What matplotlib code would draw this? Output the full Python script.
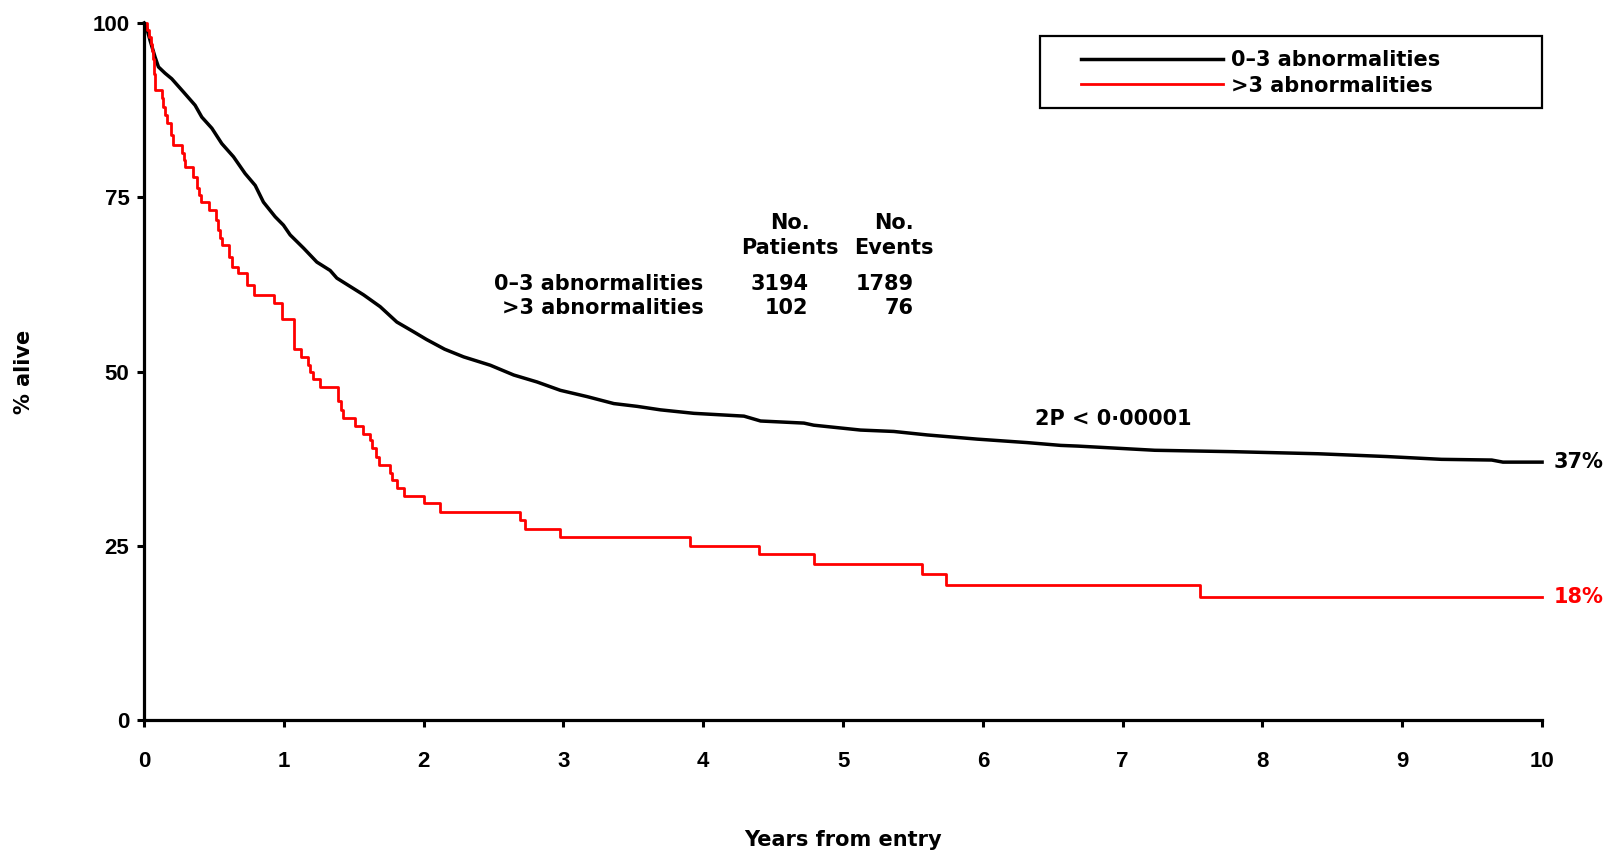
import numpy as np
import matplotlib.pyplot as plt
from matplotlib.patches import Rectangle

plt.rcParams['font.family'] = ['DejaVu Sans']
plt.rcParams['font.weight'] = 'bold'

# survival curve for 0-3 abnormalities (years, % alive)
black_t = [0, 0.02, 0.043, 0.067, 0.079, 0.103, 0.15, 0.198, 0.282, 0.365, 0.413,
           0.485, 0.556, 0.640, 0.723, 0.795, 0.854, 0.938, 0.997, 1.045, 1.141,
           1.236, 1.331, 1.379, 1.570, 1.689, 1.808, 1.928, 2.02, 2.15, 2.286,
           2.477, 2.644, 2.811, 2.978, 3.169, 3.360, 3.527, 3.694, 3.933, 4.291,
           4.41, 4.72, 4.79, 5.125, 5.363, 5.602, 5.96, 6.318, 6.557, 6.68, 7.23,
           7.79, 8.40, 8.89, 9.28, 9.64, 9.72, 10.0]
black_y = [100, 99.2, 97.5, 95.9, 95.1, 93.7, 92.8, 92.0, 90.1, 88.2, 86.5,
           84.9, 82.7, 80.8, 78.4, 76.7, 74.3, 72.2, 71.0, 69.6, 67.7,
           65.7, 64.5, 63.4, 61.0, 59.3, 57.1, 55.7, 54.6, 53.2, 52.1,
           50.9, 49.5, 48.5, 47.3, 46.4, 45.4, 45.0, 44.5, 44.0, 43.6,
           42.9, 42.6, 42.3, 41.6, 41.4, 40.9, 40.3, 39.8, 39.4, 39.3, 38.7,
           38.5, 38.2, 37.8, 37.4, 37.3, 37.0, 37.0]

# survival curve for >3 abnormalities (step times, % alive after step)
red_t = [0, 0.02, 0.038, 0.048, 0.056, 0.062, 0.068, 0.072, 0.076, 0.079,
         0.127, 0.138, 0.150, 0.167, 0.191, 0.210, 0.270, 0.285, 0.294, 0.353,
         0.377, 0.395, 0.406, 0.461, 0.515, 0.532, 0.545, 0.556, 0.611, 0.627,
         0.675, 0.735, 0.787, 0.930, 0.985, 1.069, 1.121, 1.170, 1.188, 1.208,
         1.260, 1.384, 1.408, 1.422, 1.510, 1.563, 1.618, 1.634, 1.660, 1.682,
         1.756, 1.773, 1.809, 1.857, 2.000, 2.114, 2.687, 2.727, 2.978, 3.903,
         4.397, 4.791, 5.562, 5.734, 7.55, 10.0]
red_y = [100, 99.0, 98.0, 97.0, 96.0, 94.9, 93.8, 92.7, 91.6, 90.4,
         89.2, 88.0, 86.8, 85.6, 83.9, 82.5, 81.3, 80.4, 79.4, 77.9,
         76.3, 75.3, 74.3, 73.2, 71.7, 70.3, 69.2, 68.1, 66.5, 65.0,
         64.1, 62.4, 61.0, 59.8, 57.6, 53.3, 52.1, 50.9, 50.0, 48.9,
         47.8, 45.7, 44.5, 43.3, 42.2, 41.1, 40.2, 39.0, 37.8, 36.6,
         35.5, 34.4, 33.3, 32.2, 31.1, 29.9, 28.7, 27.4, 26.2, 25.0,
         23.8, 22.4, 20.9, 19.4, 17.6, 17.6]

groups = ['0\u20133 abnormalities', '>3 abnormalities']
n_patients = [3194, 102]
n_events = [1789, 76]
end_labels = ['37%', '18%']
colors = ['black', '#ff0000']

fig = plt.figure(figsize=(16.06, 8.52), dpi=100)
ax = fig.add_axes([0.0897, 0.1549, 0.8705, 0.8181])

ax.plot(black_t, black_y, color=colors[0], lw=2.5, clip_on=False, label=groups[0])
ax.step(red_t, red_y, where='post', color=colors[1], lw=2.0, clip_on=False, label=groups[1])

ax.set_xlim(0, 10)
ax.set_ylim(0, 100)
ax.set_xticks(range(0, 11))
ax.set_yticks([0, 25, 50, 75, 100])
for s in ['top', 'right']:
    ax.spines[s].set_visible(False)
for s in ['left', 'bottom']:
    ax.spines[s].set_linewidth(2.3)
ax.tick_params(axis='both', direction='out', length=5, width=2.2, labelsize=16)
ax.tick_params(axis='x', pad=17)
ax.tick_params(axis='y', pad=5.5)
for lab in ax.get_xticklabels() + ax.get_yticklabels():
    lab.set_fontweight('bold')
    lab.set_family('Liberation Sans')

ax.set_xlabel('Years from entry', fontsize=15, fontweight='bold')
ax.xaxis.set_label_coords(0.5, -0.158)
ax.set_ylabel('% alive', fontsize=15, fontweight='bold', va='center')
ax.yaxis.set_label_coords(-0.086, 0.5)

# numbers table
ax.text(4.617, 71.3, 'No.', ha='center', va='center', fontsize=15)
ax.text(5.361, 71.3, 'No.', ha='center', va='center', fontsize=15)
ax.text(4.617, 67.7, 'Patients', ha='center', va='center', fontsize=15)
ax.text(5.361, 67.7, 'Events', ha='center', va='center', fontsize=15)
for i, yy in enumerate([62.5, 59.1]):
    ax.text(4.0, yy, groups[i], ha='right', va='center', fontsize=15)
    ax.text(4.753, yy, str(n_patients[i]), ha='right', va='center', fontsize=15)
    ax.text(5.505, yy, str(n_events[i]), ha='right', va='center', fontsize=15)

ax.text(6.93, 43.2, '2P < 0\u00b700001', ha='center', va='center', fontsize=15)
ax.text(10.08, black_y[-1], end_labels[0], ha='left', va='center', fontsize=15,
        color=colors[0], clip_on=False)
ax.text(10.08, red_y[-1], end_labels[1], ha='left', va='center', fontsize=15,
        color=colors[1], clip_on=False)

# legend with a wide box
fig.patches.append(Rectangle((1040 / 1606, 1 - 108 / 852), 502 / 1606, 72 / 852,
                             transform=fig.transFigure, fill=False, lw=1.6,
                             edgecolor='black'))
ax.legend(loc='upper left', bbox_to_anchor=(1081 / 1606, 1 - 50 / 852),
          bbox_transform=fig.transFigure, frameon=False, fontsize=15,
          handlelength=6.8, handletextpad=0.4, labelspacing=0.27, borderpad=0,
          borderaxespad=0)

fig.savefig('out.png', dpi=100)
